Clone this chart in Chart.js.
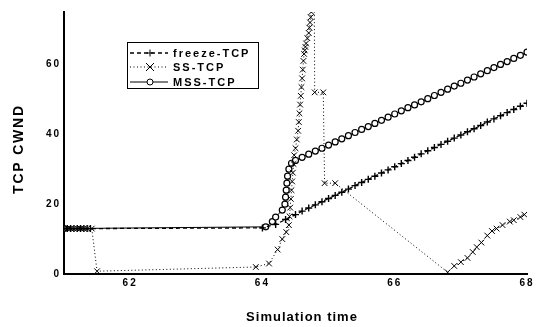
<!DOCTYPE html>
<html>
<head>
<meta charset="utf-8">
<script src="https://cdn.jsdelivr.net/npm/chart.js@4/dist/chart.umd.min.js"></script>
<style>
  html, body { margin: 0; padding: 0; background: #fff; }
  #wrap { width: 537px; height: 327px; }
</style>
</head>
<body>
<div id="wrap"><canvas id="cwndChart" width="537" height="327"></canvas></div>
<script>
// tick labels
const xTicks = [62, 64, 66, 68];
const yTicks = [0, 20, 40, 60];

// freeze-TCP
const freezeX = [61.0, 61.05, 61.1, 61.15, 61.2, 61.25, 61.3, 61.35, 61.4,
  64.0, 64.2, 64.35, 64.5, 64.6, 64.7, 64.8, 64.9, 65.0, 65.1, 65.2, 65.3, 65.4,
  65.5, 65.6, 65.7, 65.8, 65.9, 66.0, 66.1, 66.2, 66.3, 66.4, 66.5, 66.6, 66.7,
  66.8, 66.9, 67.0, 67.1, 67.2, 67.3, 67.4, 67.5, 67.6, 67.7, 67.8, 67.9, 68.0];
const freezeY = [13, 13, 13, 13, 13, 13, 13, 13, 13,
  13.2, 14.2, 15.6, 17.0, 18.0, 18.9, 19.8, 20.7, 21.6, 22.5, 23.4, 24.3, 25.3,
  26.2, 27.1, 28.0, 28.9, 29.8, 30.7, 31.6, 32.5, 33.4, 34.4, 35.3, 36.2, 37.1,
  38.0, 38.9, 39.8, 40.7, 41.6, 42.5, 43.5, 44.4, 45.3, 46.2, 47.1, 48.0, 48.9];

// SS-TCP
const ssX = [61.0, 61.05, 61.1, 61.15, 61.2, 61.25, 61.3, 61.35, 61.42, 61.5,
  63.9, 64.1, 64.23, 64.3, 64.36, 64.4, 64.41, 64.42, 64.43, 64.44, 64.45, 64.46,
  64.47, 64.48, 64.5, 64.52, 64.54, 64.55, 64.56, 64.57, 64.58, 64.59, 64.6, 64.61,
  64.62, 64.63, 64.64, 64.65, 64.66, 64.68, 64.7, 64.71, 64.72, 64.73, 64.74, 64.75,
  64.76, 64.77, 64.78,
  64.79, 64.92, 64.94, 65.1, 66.8, 66.9, 67.0, 67.1, 67.18, 67.24, 67.31, 67.4,
  67.47, 67.54, 67.63, 67.74, 67.8, 67.9, 67.96];
const ssY = [13, 13, 13, 13, 13, 13, 13, 13, 13, 0.8,
  2, 3, 7, 10, 12, 14, 16.5, 19, 21.5, 24, 26.5, 29,
  31.5, 34, 36, 38.5, 41, 43.5, 46, 48.5, 51, 53.5, 56, 58.5,
  61, 63, 64, 65, 66, 67.5, 69, 70.5, 72, 73.5, 75, 77,
  80, 85, 100,
  52, 52, 26, 26, 0.5, 2.3, 3.4, 4.6, 6.3, 7.7, 9, 11,
  12.3, 13, 14, 15, 15.4, 16.3, 17];

// MSS-TCP
const mssX = [61.0, 64.05, 64.15, 64.2, 64.3, 64.34, 64.35, 64.36, 64.37, 64.38,
  64.4, 64.44, 64.5, 64.6, 64.7, 64.8, 64.9, 65.0, 65.1, 65.2, 65.3, 65.4, 65.5,
  65.6, 65.7, 65.8, 65.9, 66.0, 66.1, 66.2, 66.3, 66.4, 66.5, 66.6, 66.7, 66.8,
  66.9, 67.0, 67.1, 67.2, 67.3, 67.4, 67.5, 67.6, 67.7, 67.8, 67.9, 68.0];
const mssY = [13, 13.5, 15, 16.3, 18.3, 20, 22, 24, 26, 28,
  30, 31.7, 32.5, 33.4, 34.3, 35.2, 36.0, 36.9, 37.8, 38.7, 39.6, 40.5, 41.4,
  42.2, 43.1, 44.0, 44.9, 45.8, 46.7, 47.6, 48.4, 49.3, 50.2, 51.1, 52.0, 52.9,
  53.8, 54.6, 55.5, 56.4, 57.3, 58.2, 59.1, 60.0, 60.8, 61.7, 62.6, 63.5];

const seriesNames = ["freeze-TCP", "SS-TCP", "MSS-TCP"];

function toPoints(xs, ys) {
  return xs.map((x, i) => ({ x: x, y: ys[i] }));
}

const datasets = [
  {
    label: seriesNames[0],
    data: toPoints(freezeX, freezeY),
    borderColor: "#000",
    borderWidth: 1.3,
    borderDash: [4, 3],
    pointStyle: "cross",
    pointRadius: 3.5,
    pointBorderWidth: 1.4,
    pointBorderColor: "#000",
  },
  {
    label: seriesNames[1],
    data: toPoints(ssX, ssY),
    borderColor: "#000",
    borderWidth: 1,
    borderDash: [1, 2.5],
    pointStyle: "crossRot",
    pointRadius: 4,
    pointBorderWidth: 1,
    pointBorderColor: "#000",
  },
  {
    label: seriesNames[2],
    data: toPoints(mssX, mssY),
    borderColor: "#000",
    borderWidth: 1,
    pointStyle: "circle",
    pointRadius: 3,
    pointBorderWidth: 1.2,
    pointBorderColor: "#000",
    pointBackgroundColor: "#fff",
  },
];

// sample marker for the legend box
function drawMarker(ctx, style, x, y, r) {
  ctx.beginPath();
  if (style === "cross") {
    ctx.moveTo(x - r, y); ctx.lineTo(x + r, y);
    ctx.moveTo(x, y - r); ctx.lineTo(x, y + r);
    ctx.stroke();
  } else if (style === "crossRot") {
    ctx.moveTo(x - r, y - r); ctx.lineTo(x + r, y + r);
    ctx.moveTo(x - r, y + r); ctx.lineTo(x + r, y - r);
    ctx.stroke();
  } else {
    ctx.arc(x, y, r, 0, Math.PI * 2);
    ctx.fillStyle = "#fff";
    ctx.fill();
    ctx.stroke();
  }
}

const decorPlugin = {
  id: "decor",
  beforeDraw(chart) {
    chart.ctx.letterSpacing = "2px";
  },
  afterDraw(chart) {
    const ctx = chart.ctx;
    ctx.save();
    ctx.fillStyle = "#000";
    ctx.strokeStyle = "#000";

    // axis titles
    ctx.letterSpacing = "1px";
    ctx.font = "bold 13px 'Liberation Sans', Arial, sans-serif";
    ctx.textAlign = "center";
    ctx.textBaseline = "middle";
    ctx.fillText("Simulation time", 302, 317);

    ctx.save();
    ctx.letterSpacing = "1.8px";
    ctx.font = "bold 14px 'Liberation Sans', Arial, sans-serif";
    ctx.translate(19, 149);
    ctx.rotate(-Math.PI / 2);
    ctx.fillText("TCP CWND", 0, 0);
    ctx.restore();

    // legend
    ctx.lineWidth = 1;
    ctx.setLineDash([]);
    ctx.strokeRect(127.5, 42.5, 131, 46);
    const rows = [53, 67, 82];
    ctx.letterSpacing = "2px";
    ctx.font = "bold 11px 'Liberation Sans', Arial, sans-serif";
    ctx.textAlign = "left";
    datasets.forEach((ds, i) => {
      const y = rows[i];
      ctx.setLineDash(ds.borderDash || []);
      ctx.lineWidth = ds.borderWidth;
      ctx.beginPath();
      ctx.moveTo(130, y);
      ctx.lineTo(168, y);
      ctx.stroke();
      ctx.setLineDash([]);
      ctx.lineWidth = 1;
      drawMarker(ctx, ds.pointStyle, 150, y, ds.pointRadius);
      ctx.fillStyle = "#000";
      ctx.fillText(ds.label, 173, y + 1);
    });
    ctx.restore();
    ctx.letterSpacing = "0px";
  },
};

const ctx = document.getElementById("cwndChart").getContext("2d");

new Chart(ctx, {
  type: "scatter",
  data: { datasets: datasets },
  plugins: [decorPlugin],
  options: {
    responsive: false,
    animation: false,
    showLine: true,
    layout: { padding: { top: 12, right: 10, left: 0, bottom: 0 } },
    plugins: {
      legend: { display: false },
      tooltip: { enabled: false },
    },
    elements: { line: { fill: false, tension: 0 } },
    scales: {
      x: {
        type: "linear",
        min: 61,
        max: 68,
        afterBuildTicks: (scale) => {
          scale.ticks = xTicks.map((v) => ({ value: v }));
        },
        afterFit: (scale) => {
          scale.height = 53;
        },
        grid: { display: false, drawTicks: false },
        border: { display: true, color: "#000", width: 2 },
        ticks: {
          color: "#000",
          padding: 3,
          maxRotation: 0,
          font: { family: "'Liberation Sans', Arial, sans-serif", size: 10, weight: "bold" },
        },
      },
      y: {
        type: "linear",
        min: 0,
        max: 75,
        afterBuildTicks: (scale) => {
          scale.ticks = yTicks.map((v) => ({ value: v }));
        },
        afterFit: (scale) => {
          scale.width = 64;
        },
        grid: { display: false, drawTicks: false },
        border: { display: true, color: "#000", width: 2 },
        ticks: {
          color: "#000",
          padding: 3,
          font: { family: "'Liberation Sans', Arial, sans-serif", size: 10, weight: "bold" },
        },
      },
    },
  },
});
</script>
</body>
</html>
